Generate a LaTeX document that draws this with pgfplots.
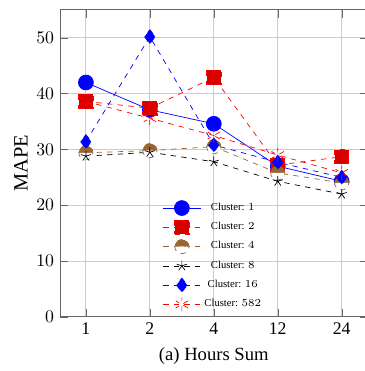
\documentclass[border=0pt]{standalone}
\usepackage{fontspec}
\setmainfont{Liberation Serif}
\usepackage{pgfplots}
\pgfplotsset{compat=1.18}
\definecolor{mybrown}{rgb}{0.6,0.4,0.2}
\begin{document}
\begin{tikzpicture}
\begin{axis}[
  scale only axis,
  width=173pt, height=173pt,
  xmin=-0.4, xmax=4.4,
  ymin=0, ymax=55,
  xtick={0,1,2,3,4},
  xticklabels={1,2,4,12,24},
  ytick={0,10,20,30,40,50},
  grid=major,
  grid style={gray!40, line width=0.5pt},
  axis line style={gray!80!black, line width=0.6pt},
  tick style={gray!80!black},
  ylabel={MAPE},
  ylabel style={font=\fontsize{11.5}{13}\selectfont, yshift=-2pt},
  xlabel={(a) Hours Sum},
  xlabel style={font=\fontsize{10.5}{12}\selectfont},
  legend style={draw=none, fill=none, font=\fontsize{6}{7}\selectfont,
     at={(0.5,0.0)}, anchor=south, row sep=1.2pt},
  legend cell align=center,
  legend image code/.code={\draw[mark repeat=2,mark phase=2] plot coordinates {(0cm,0cm)(0.37cm,0cm)(0.74cm,0cm)};},
]
\addplot[blue, solid, mark=*, mark size=4.2pt] coordinates {(0,42.0) (1,37.1) (2,34.6) (3,27.0) (4,24.3)};
\addlegendentry{Cluster: $1$}
\addplot[red, dashed, mark=square*, mark size=4pt, mark options={fill=red!85!black}] coordinates {(0,38.6) (1,37.4) (2,42.9) (3,27.2) (4,28.7)};
\addlegendentry{Cluster: $2$}
\addplot[mybrown, dashed, mark=halfcircle*, mark size=4pt] coordinates {(0,29.4) (1,29.8) (2,30.5) (3,25.8) (4,24.0)};
\addlegendentry{Cluster: $4$}
\addplot[black, dashed, mark=star, mark size=3.5pt] coordinates {(0,28.8) (1,29.5) (2,27.8) (3,24.3) (4,22.0)};
\addlegendentry{Cluster: $8$}
\addplot[blue, dashed, mark=diamond*, mark size=4pt] coordinates {(0,31.4) (1,50.2) (2,30.8) (3,27.7) (4,25.0)};
\addlegendentry{Cluster: $16$}
\addplot[red, dashed, mark=asterisk, mark size=4pt] coordinates {(0,38.6) (1,35.6) (2,32.5) (3,29.0) (4,25.8)};
\addlegendentry{Cluster: $582$}
\end{axis}
\pgfresetboundingbox
\path[use as bounding box] (-34pt,-30.5pt) rectangle (171.6pt,178.6pt);
\end{tikzpicture}
\end{document}
